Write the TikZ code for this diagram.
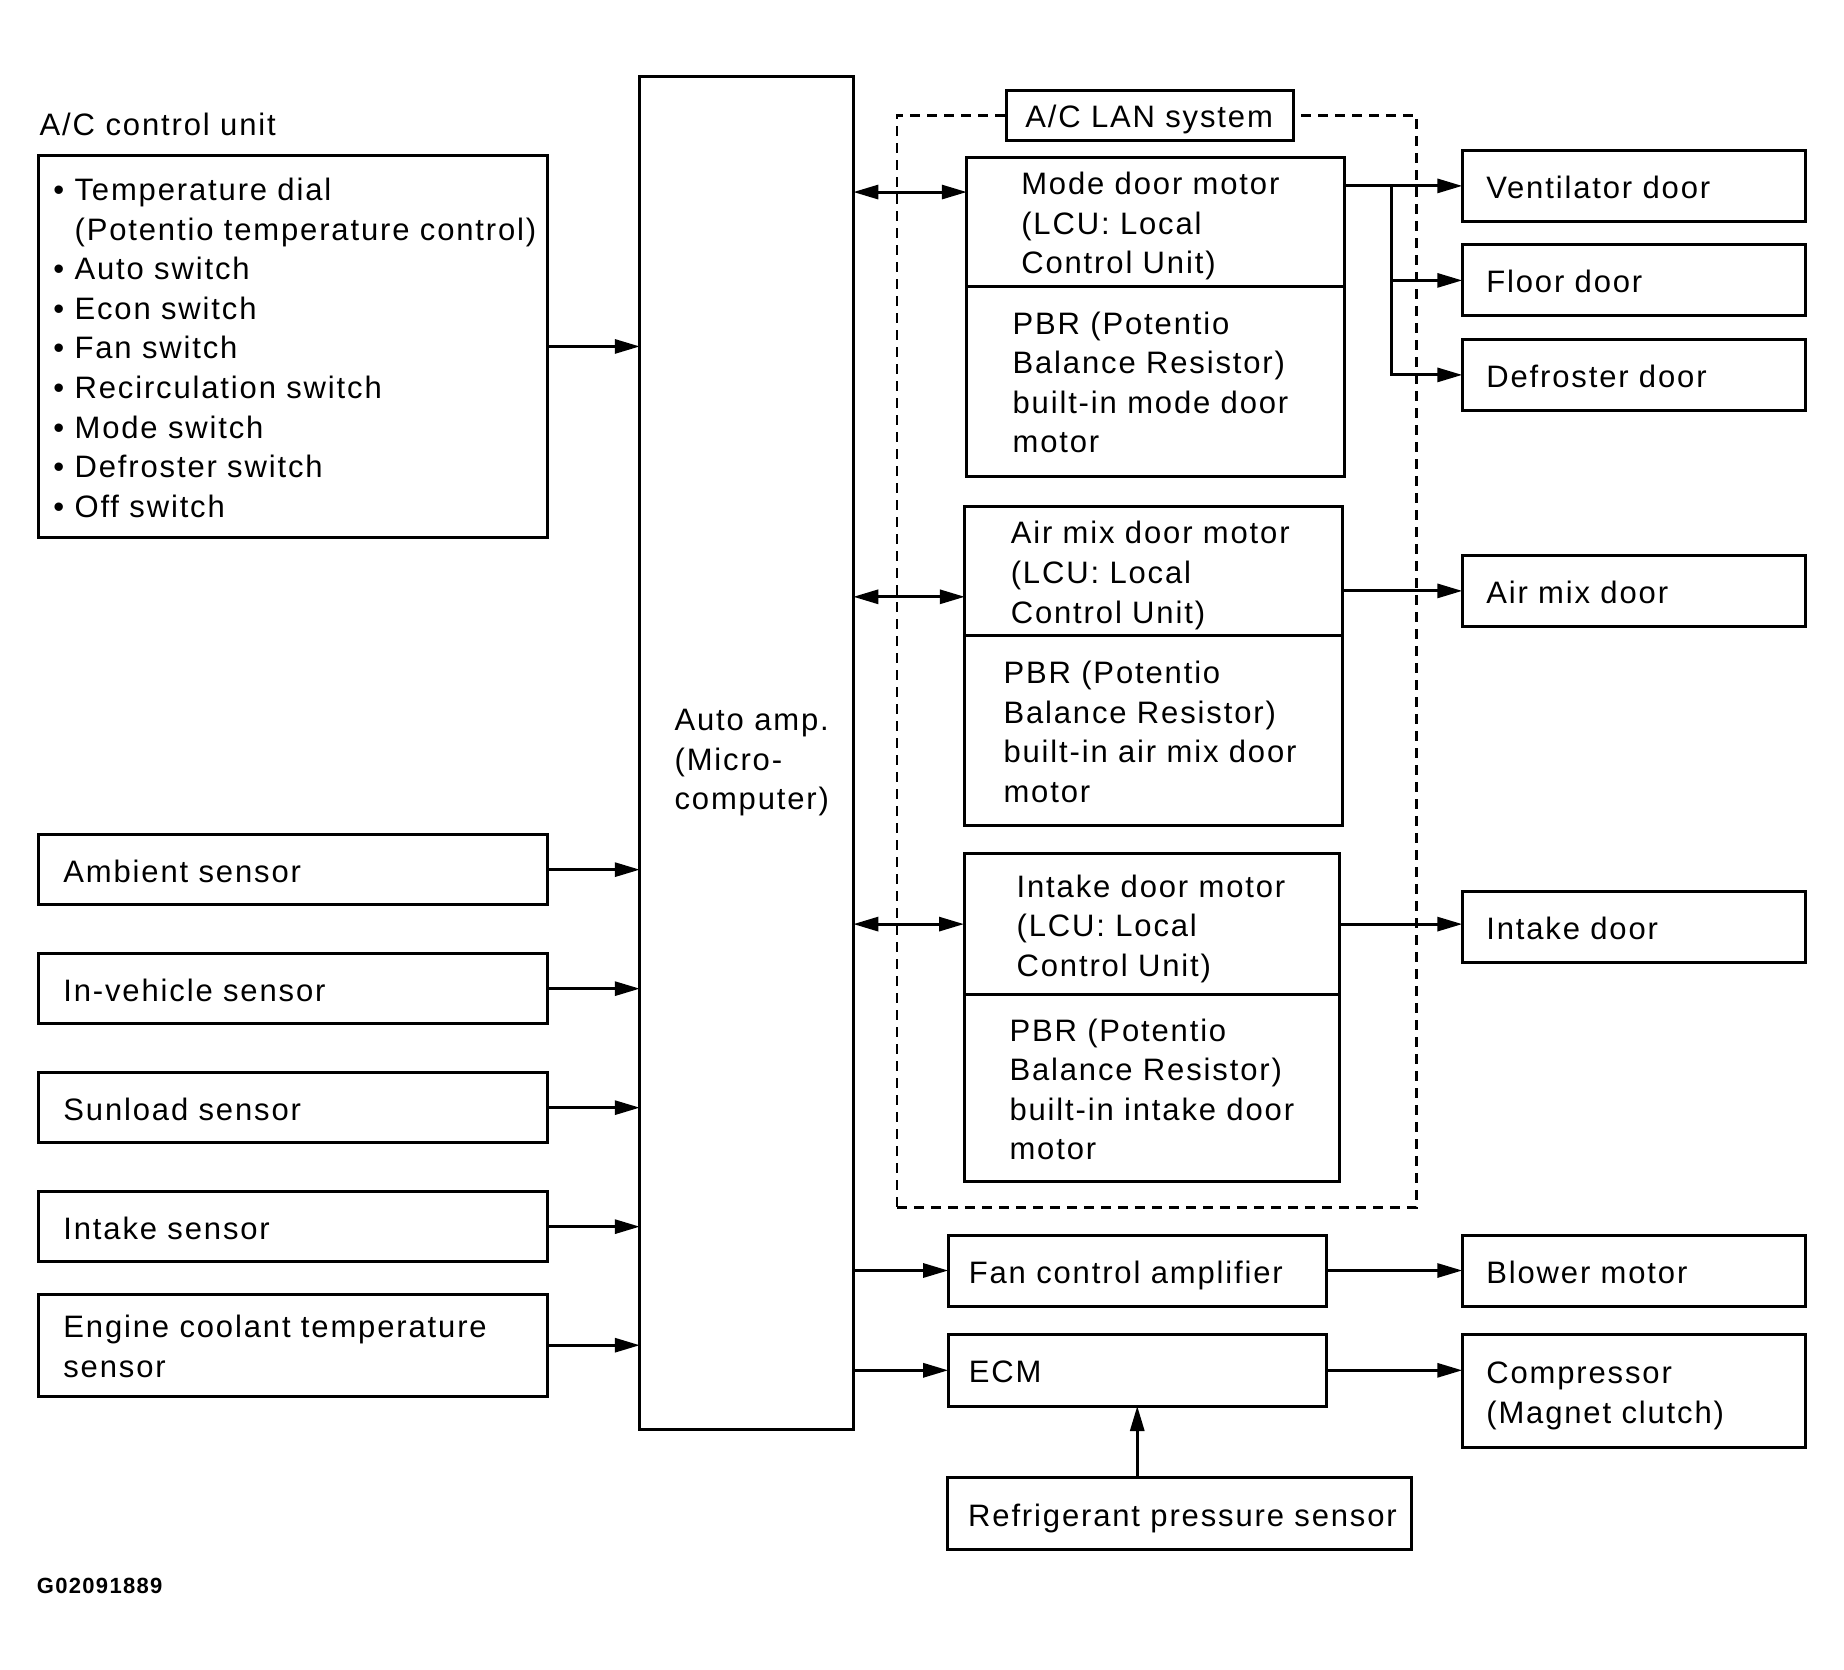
\documentclass[tikz,border=0pt]{standalone}
\usepackage{fontspec}
\setmainfont{Liberation Sans}[LetterSpace=6]
\usetikzlibrary{arrows.meta,positioning}

\begin{document}
\begin{tikzpicture}[
      x=1pt, y=-1pt,
      font={\fontsize{31}{39.6}\selectfont},
      node distance=48.5pt,
      box/.style={draw, line width=3pt, anchor=north west, outer sep=0pt,
                  inner xsep=0pt, inner ysep=2pt, align=left,
                  execute at begin node={\leftskip=#1\rule{0pt}{33pt}},
                  execute at end node={\rule[-8pt]{0pt}{8pt}}},
      box/.default=20pt,
      sens/.style={box=25pt, text width=508.8pt, minimum height=70.5pt},
      door/.style={box=24pt, text width=343.2pt, minimum height=71pt},
      lcu/.style={box=#1, text width=377.2pt},
      lan/.style={draw, line width=2.5pt, dash pattern=on 10pt off 7pt},
      tip/.tip={Triangle[length=25pt, width=14pt]},
      arr/.style={-tip, line width=3pt},
      dbl/.style={tip-tip, line width=3pt}
    ]
    \useasboundingbox (0,0) rectangle (1844,1670);

    % control unit and its inputs
    \node[anchor=base west, inner sep=0pt] (acutitle) at (39.5,135) {A/C control unit};
    \node[box=15pt, text width=509.2pt, minimum height=382.1pt] (acu) at (38.4,155.4)
      {\textbullet\ Temperature dial\\
       \hphantom{\textbullet\ }(Potentio temperature control)\\
       \textbullet\ Auto switch\\
       \textbullet\ Econ switch\\
       \textbullet\ Fan switch\\
       \textbullet\ Recirculation switch\\
       \textbullet\ Mode switch\\
       \textbullet\ Defroster switch\\
       \textbullet\ Off switch};
    \node[sens] (amb) at (38.4,834.4) {Ambient sensor};
    \node[sens] (inveh) [below=of amb] {In-vehicle sensor};
    \node[sens] (sun) [below=of inveh] {Sunload sensor};
    \node[sens] (intks) [below=of sun] {Intake sensor};
    \node[sens, minimum height=101.6pt] (eng) [below=32.5pt of intks]
      {Engine coolant temperature\\sensor};

    % auto amp (text sits a little low in its box)
    \node[box=34.8pt, text width=213.5pt, minimum height=1353.2pt] (amp) at (639.8,76.1)
      {\rule{0pt}{43pt}Auto amp.\\(Micro-\\computer)};

    % LAN system with the three motors
    \node[lan, anchor=north west, inner sep=0pt, minimum width=519.7pt,
          minimum height=1091.7pt] (lanframe) at (895.6,114.3) {};
    \node[box=19pt, text width=286.9pt, minimum height=50pt, fill=white] (lantitle)
      at (1006.3,90.4) {A/C LAN system};

    \node[lcu=54.5pt, minimum height=128.9pt] (mode) at (966.8,157.1)
      {Mode door motor\\(LCU: Local\\Control Unit)};
    \node[lcu=45.8pt, minimum height=190pt] (modepbr) at (mode.south west)
      {PBR (Potentio\\Balance Resistor)\\built-in mode door\\motor};
    \node[lcu=46pt, minimum height=129.3pt] (amix) at (964.8,506.4)
      {Air mix door motor\\(LCU: Local\\Control Unit)};
    \node[lcu=38.7pt, minimum height=189.7pt] (amixpbr) at (amix.south west)
      {PBR (Potentio\\Balance Resistor)\\built-in air mix door\\motor};
    \node[lcu=52.6pt, minimum height=141pt, text width=375.4pt] (intk) at (964,853.6)
      {Intake door motor\\(LCU: Local\\Control Unit)};
    \node[lcu=45.5pt, minimum height=186.8pt, text width=375.4pt] (intkpbr) at (intk.south west)
      {PBR (Potentio\\Balance Resistor)\\built-in intake door\\motor};

    % doors and actuators
    \node[door] (vent) at (1462.3,150.4) {Ventilator door};
    \node[door] (floor) [below=23.5pt of vent] {Floor door};
    \node[door] (defr) [below=23.5pt of floor] {Defroster door};
    \node[door] (amd) at (1462.3,555.4) {Air mix door};
    \node[door] (idoor) at (1462.3,891.4) {Intake door};
    \node[door] (blower) at (1462.3,1235.3) {Blower motor};
    \node[door, minimum height=113pt] (comp) at (1462.3,1334.3)
      {Compressor\\(Magnet clutch)};

    % fan amp, ECM and pressure sensor
    \node[box=20.6pt, text width=378.1pt, minimum height=71pt] (fan) at (948.2,1235)
      {Fan control amplifier};
    \node[box=20.6pt, text width=378.1pt, minimum height=71.4pt] (ecm) [below=28.6pt of fan]
      {ECM};
    \node[box=21.2pt, text width=464.4pt, minimum height=71.4pt] (refr) at (947,1477.9)
      {Refrigerant pressure sensor};

    \node[anchor=base west, inner sep=0pt, font={\fontsize{22}{26}\selectfont\bfseries}]
      (code) at (36.7,1593.3) {G02091889};

    % inputs into the amp
    \draw[arr] (acu.east) -- (acu.east -| amp.west);
    \draw[arr] (amb.east) -- (amb.east -| amp.west);
    \draw[arr] (inveh.east) -- (inveh.east -| amp.west);
    \draw[arr] (sun.east) -- (sun.east -| amp.west);
    \draw[arr] (intks.east) -- (intks.east -| amp.west);
    \draw[arr] (eng.east) -- (eng.east -| amp.west);

    % LAN links
    \draw[dbl] ([yshift=29.5pt]mode.west -| amp.east) -- ([yshift=29.5pt]mode.west);
    \draw[dbl] ([yshift=-25.75pt]amix.west -| amp.east) -- ([yshift=-25.75pt]amix.west);
    \draw[dbl] (intk.west -| amp.east) -- (intk.west);

    % motors to doors
    \coordinate (br) at (1391.4,185.7);
    \draw[arr] (vent.west -| mode.east) -- (vent.west);
    \draw[arr] (br) |- (floor.west);
    \draw[arr] (br) |- (defr.west);
    \draw[arr] (amd.west -| amix.east) -- (amd.west);
    \draw[arr] (intk.east) -- (intk.east -| idoor.west);

    % blower and compressor
    \draw[arr] (fan.west -| amp.east) -- (fan.west);
    \draw[arr] (ecm.west -| amp.east) -- (ecm.west);
    \draw[arr] (fan.east) -- (fan.east -| blower.west);
    \draw[arr] (ecm.east) -- (ecm.east -| comp.west);
    \draw[arr] (refr.north -| ecm.south) -- (ecm.south);
  \end{tikzpicture}
\end{document}
